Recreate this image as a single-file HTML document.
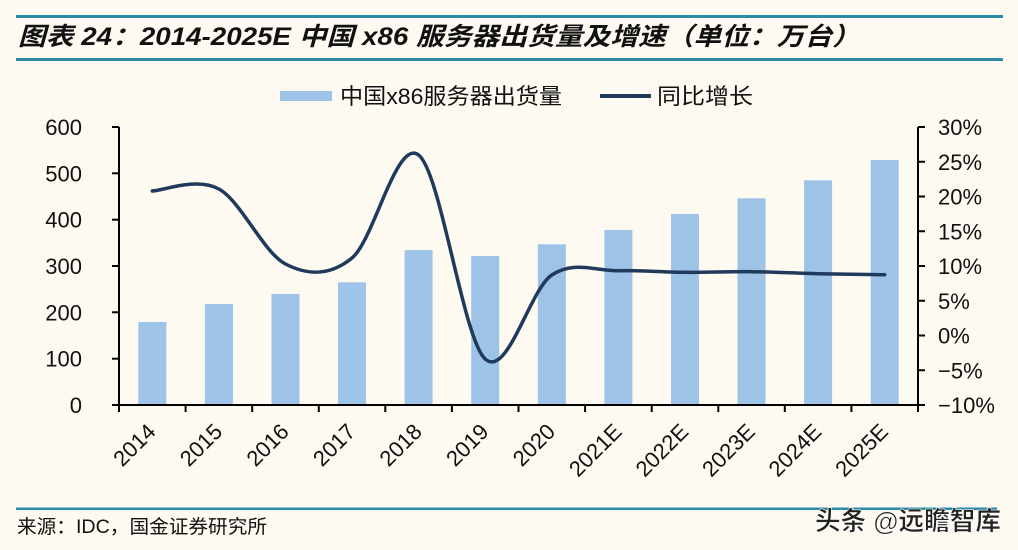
<!DOCTYPE html>
<html><head><meta charset="utf-8"><style>
html,body{margin:0;padding:0;background:#fefaf2;}
svg{display:block;}
</style></head><body>
<svg width="1018" height="550" viewBox="0 0 1018 550" xmlns="http://www.w3.org/2000/svg">
<rect x="0" y="0" width="1018" height="550" fill="#fefaf2"/>
<!-- title lines -->
<rect x="16" y="15" width="987" height="3" fill="#2b8ba6"/>
<rect x="16" y="58" width="987" height="3" fill="#2b8ba6"/>
<text x="18" y="45" font-family="'Liberation Sans','Noto Sans CJK SC',sans-serif" font-size="25" font-weight="bold" font-style="italic" fill="#111" textLength="842" lengthAdjust="spacingAndGlyphs">图表 24：2014-2025E 中国 x86 服务器出货量及增速（单位：万台）</text>

<!-- legend -->
<rect x="280" y="91" width="52" height="10" fill="#9dc3e6"/>
<text x="340" y="104" font-family="'Liberation Sans','Noto Sans CJK SC',sans-serif" font-size="22" fill="#111" textLength="222" lengthAdjust="spacingAndGlyphs">中国x86服务器出货量</text>
<rect x="600" y="94" width="51" height="4" fill="#203a5c"/>
<text x="657" y="104" font-family="'Liberation Sans','Noto Sans CJK SC',sans-serif" font-size="22" fill="#111" textLength="96" lengthAdjust="spacingAndGlyphs">同比增长</text>

<!-- bars -->
<g fill="#9dc3e6">
<rect x="138.3" y="322" width="28" height="83"/>
<rect x="204.9" y="304" width="28" height="101"/>
<rect x="271.5" y="294" width="28" height="111"/>
<rect x="338.0" y="282.3" width="28" height="122.7"/>
<rect x="404.6" y="250" width="28" height="155"/>
<rect x="471.2" y="256" width="28" height="149"/>
<rect x="537.8" y="244.3" width="28" height="160.7"/>
<rect x="604.4" y="230" width="28" height="175"/>
<rect x="671.0" y="214" width="28" height="191"/>
<rect x="737.5" y="198.3" width="28" height="206.7"/>
<rect x="804.1" y="180.3" width="28" height="224.7"/>
<rect x="870.7" y="160" width="28" height="245"/>
</g>

<!-- line -->
<path d="M152.3,191 C163.4,190.7 196.7,176.8 218.9,189 C241.1,201.2 263.3,252.5 285.5,264 C307.7,275.5 329.8,276.2 352,258 C374.2,239.8 396.4,138.2 418.6,155 C440.8,171.8 463,339 485.2,359 C507.4,379 529.6,289.7 551.8,275 C574,260.3 596.2,271.15 618.4,270.7 C640.6,270.25 662.8,272.13 685,272.3 C707.2,272.47 729.3,271.47 751.5,271.7 C773.7,271.93 795.9,273.2 818.1,273.7 C840.3,274.2 873.6,274.53 884.7,274.7" fill="none" stroke="#203a5c" stroke-width="3.5" stroke-linecap="round" stroke-linejoin="round"/>

<!-- axes -->
<g stroke="#000" stroke-width="2" fill="none">
<line x1="119" y1="127" x2="119" y2="406"/>
<line x1="918" y1="127" x2="918" y2="406"/>
<line x1="112" y1="405" x2="925" y2="405"/>
<line x1="112" y1="127" x2="119" y2="127"/>
<line x1="112" y1="173.3" x2="119" y2="173.3"/>
<line x1="112" y1="219.7" x2="119" y2="219.7"/>
<line x1="112" y1="266" x2="119" y2="266"/>
<line x1="112" y1="312.3" x2="119" y2="312.3"/>
<line x1="112" y1="358.7" x2="119" y2="358.7"/>
<line x1="918" y1="127" x2="925" y2="127"/>
<line x1="918" y1="161.75" x2="925" y2="161.75"/>
<line x1="918" y1="196.5" x2="925" y2="196.5"/>
<line x1="918" y1="231.25" x2="925" y2="231.25"/>
<line x1="918" y1="266" x2="925" y2="266"/>
<line x1="918" y1="300.75" x2="925" y2="300.75"/>
<line x1="918" y1="335.5" x2="925" y2="335.5"/>
<line x1="918" y1="370.25" x2="925" y2="370.25"/>
<line x1="119" y1="405" x2="119" y2="412"/>
<line x1="185.6" y1="405" x2="185.6" y2="412"/>
<line x1="252.2" y1="405" x2="252.2" y2="412"/>
<line x1="318.8" y1="405" x2="318.8" y2="412"/>
<line x1="385.3" y1="405" x2="385.3" y2="412"/>
<line x1="451.9" y1="405" x2="451.9" y2="412"/>
<line x1="518.5" y1="405" x2="518.5" y2="412"/>
<line x1="585.1" y1="405" x2="585.1" y2="412"/>
<line x1="651.7" y1="405" x2="651.7" y2="412"/>
<line x1="718.3" y1="405" x2="718.3" y2="412"/>
<line x1="784.8" y1="405" x2="784.8" y2="412"/>
<line x1="851.4" y1="405" x2="851.4" y2="412"/>
<line x1="918" y1="405" x2="918" y2="412"/>
</g>

<!-- left labels -->
<g font-family="'Liberation Sans',sans-serif" font-size="22" fill="#111" text-anchor="end">
<text x="82" y="135">600</text>
<text x="82" y="181.3">500</text>
<text x="82" y="227.7">400</text>
<text x="82" y="274">300</text>
<text x="82" y="320.3">200</text>
<text x="82" y="366.7">100</text>
<text x="82" y="413">0</text>
</g>
<!-- right labels -->
<g font-family="'Liberation Sans',sans-serif" font-size="22" fill="#111">
<text x="938" y="135">30%</text>
<text x="938" y="169.75">25%</text>
<text x="938" y="204.5">20%</text>
<text x="938" y="239.25">15%</text>
<text x="938" y="274">10%</text>
<text x="938" y="308.75">5%</text>
<text x="938" y="343.5">0%</text>
<text x="938" y="378.25">−5%</text>
<text x="938" y="413">−10%</text>
</g>

<!-- x labels -->
<g font-family="'Liberation Sans',sans-serif" font-size="22" fill="#111" text-anchor="end">
<text transform="translate(157,433) rotate(-45)">2014</text>
<text transform="translate(223.6,433) rotate(-45)">2015</text>
<text transform="translate(290.2,433) rotate(-45)">2016</text>
<text transform="translate(356.8,433) rotate(-45)">2017</text>
<text transform="translate(423.3,433) rotate(-45)">2018</text>
<text transform="translate(489.9,433) rotate(-45)">2019</text>
<text transform="translate(556.5,433) rotate(-45)">2020</text>
<text transform="translate(623.1,433) rotate(-45)">2021E</text>
<text transform="translate(689.7,433) rotate(-45)">2022E</text>
<text transform="translate(756.2,433) rotate(-45)">2023E</text>
<text transform="translate(822.8,433) rotate(-45)">2024E</text>
<text transform="translate(889.4,433) rotate(-45)">2025E</text>
</g>

<!-- source -->
<rect x="16" y="507.5" width="981" height="2.5" fill="#2b8ba6"/>
<text x="17" y="533" font-family="'Liberation Sans','Noto Sans CJK SC',sans-serif" font-size="19" fill="#111" textLength="250" lengthAdjust="spacingAndGlyphs">来源：IDC，国金证券研究所</text>

<!-- watermark -->
<text x="815" y="530" font-family="'Liberation Sans','Noto Sans CJK SC',sans-serif" font-size="26" font-weight="bold" fill="#222" stroke="#ffffff" stroke-width="0.6" textLength="186" lengthAdjust="spacingAndGlyphs">头条 @远瞻智库</text>
</svg>
</body></html>
